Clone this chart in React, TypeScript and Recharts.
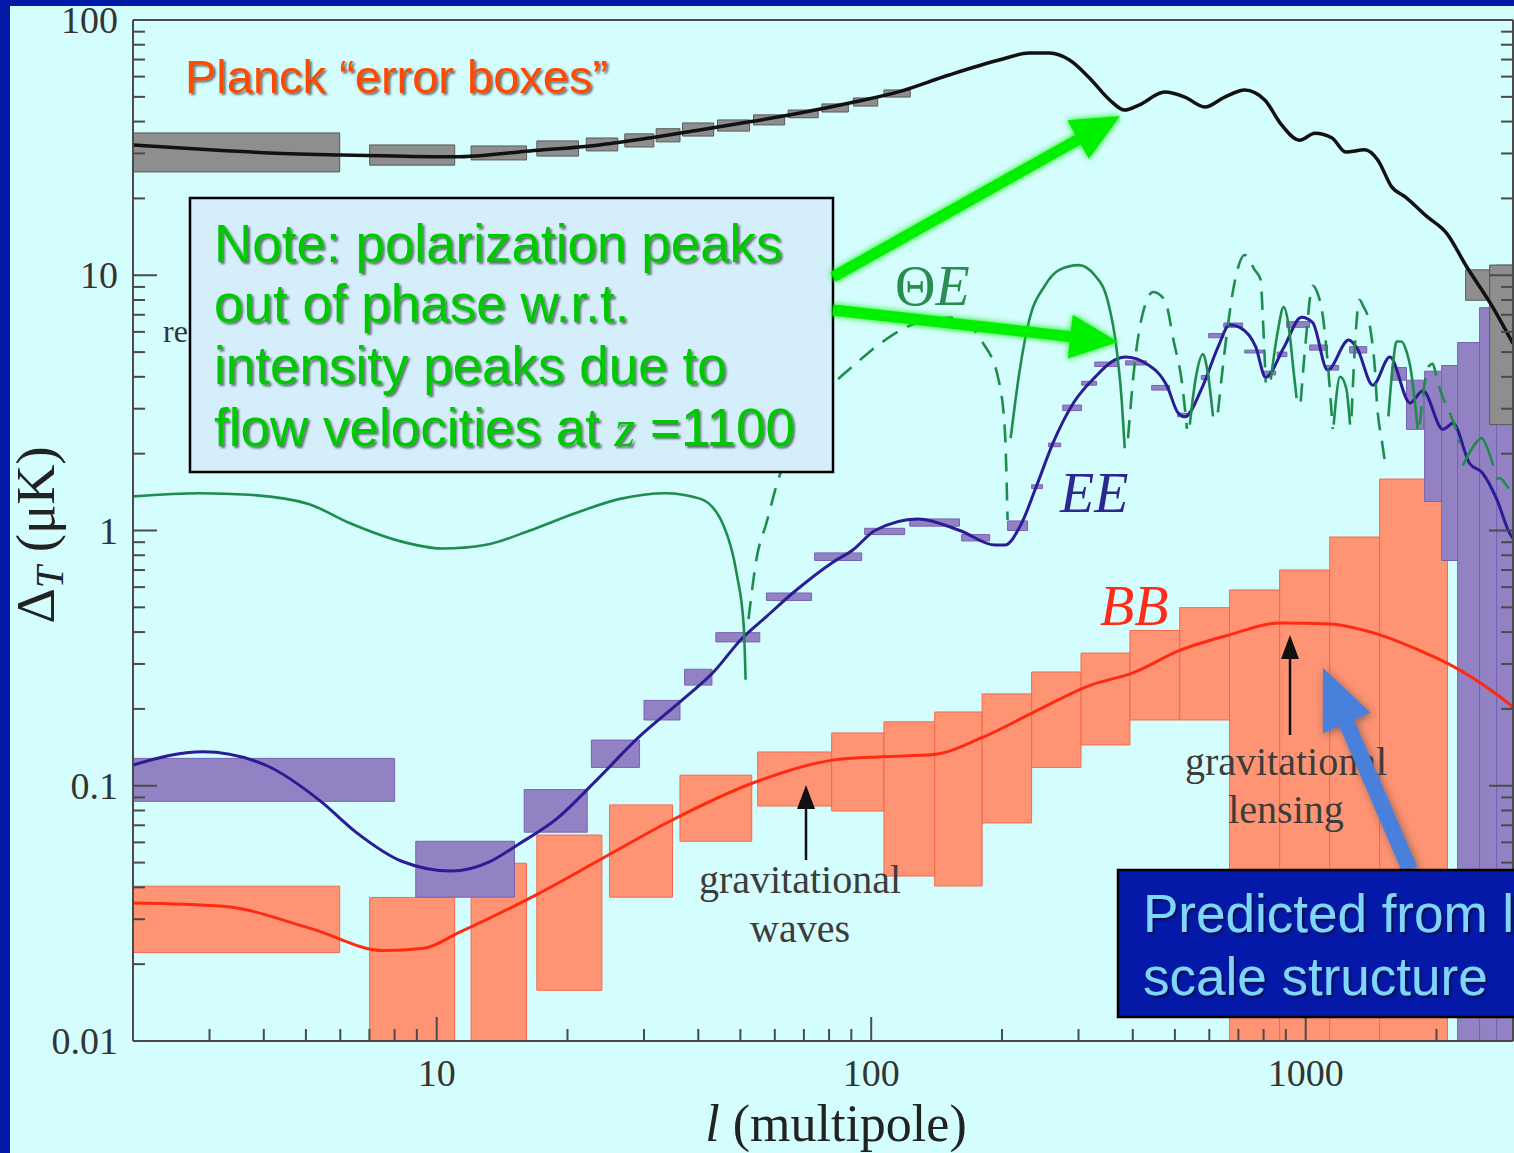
import React from 'react';
import { ComposedChart, Line, XAxis, YAxis, ReferenceArea } from 'recharts';

// CMB power spectra: multipole l against temperature/polarization amplitude (μK)
type Pt = [number, number];
type Box = [number, number, number, number]; // [lFrom, lTo, low, high]

const W = 1514;
const H = 1153;

// Temperature (TT) spectrum
const ttCurve: Pt[] = [
  [2, 32.4], [3, 31.0], [4, 30.2], [6, 29.6], [8, 29.3], [11, 29.1], [16.4, 30.7], [23.7, 32.4],
  [30.9, 34.5], [40.3, 37.1], [52.5, 39.9], [68.5, 43.2], [89.2, 47.3], [116, 52.4], [151, 60.9],
  [197, 69.7], [231, 74.2], [257, 74.2], [286, 69.7], [318, 59.3], [354, 48.6], [383, 44.4],
  [413, 46.4], [474, 52.2], [527, 49.9], [586, 45.6], [651, 49.9], [724, 53.2], [805, 48.6],
  [880, 38.8], [968, 33.8], [1050, 36.0], [1150, 34.5], [1236, 30.4], [1367, 31.0], [1465, 28.3],
  [1577, 22.2], [1700, 20.2], [1900, 17.0], [2111, 14.6], [2347, 10.8], [2694, 7.5], [3000, 5.4],
];

// E-mode polarization (EE) spectrum
const eeCurve: Pt[] = [
  [2, 0.1206], [2.9, 0.136], [4.08, 0.1195], [5.41, 0.0869], [6.55, 0.0654], [8.31, 0.0506],
  [10.8, 0.0463], [13.3, 0.0506], [15.4, 0.0589], [19.0, 0.0749], [23.3, 0.105], [29.3, 0.156],
  [36.3, 0.213], [43.2, 0.277], [50.6, 0.38], [57.4, 0.46], [66.0, 0.569], [81.5, 0.75],
  [90.7, 0.839], [102, 1.0], [128, 1.11], [160, 1.0], [193, 0.877], [203, 0.877], [222, 1.07],
  [240, 1.49], [262, 2.2], [292, 3.16], [327, 3.98], [363, 4.65], [385, 4.78], [430, 4.5],
  [481, 3.64], [507, 2.91], [527, 2.79], [578, 3.64], [629, 5.25], [668, 6.4], [705, 6.25],
  [767, 5.25], [809, 3.98], [890, 5.2], [978, 6.85], [1038, 6.52], [1123, 4.25], [1256, 5.57],
  [1311, 5.2], [1428, 3.71], [1562, 4.78], [1738, 3.16], [1861, 3.53], [2069, 2.49], [2182, 2.63],
  [2384, 1.83], [2552, 1.68], [2750, 1.33], [2948, 0.975], [3000, 0.93],
];

// B-mode polarization (BB) spectrum
const bbCurve: Pt[] = [
  [2, 0.0347], [3.22, 0.0337], [5.16, 0.0275], [7.56, 0.0226], [9.35, 0.0231], [11.3, 0.0267],
  [16.9, 0.0373], [24.1, 0.052], [34.4, 0.0726], [53.4, 0.1025], [81.5, 0.126], [106, 0.13],
  [139, 0.1325], [181, 0.155], [235, 0.193], [320, 0.248], [400, 0.277], [513, 0.339],
  [668, 0.39], [871, 0.4345], [1136, 0.4306], [1427, 0.398], [1829, 0.339], [2111, 0.303],
  [2795, 0.2236], [3000, 0.2035],
];

// Temperature-polarization cross spectrum (ΘE), signed: negative stretches are dashed
const teCurve: Pt[] = [
  [2, 1.36], [2.85, 1.4], [3.7, 1.38], [5.07, 1.27], [6.3, 1.07], [8.2, 0.91], [10.3, 0.85],
  [13, 0.88], [16.4, 1.0], [20.9, 1.17], [26.4, 1.33], [33.6, 1.4], [40.5, 1.33], [45.8, 1.04],
  [49.0, 0.68], [50.9, 0.42], [51.4, 0.26],
  [52.2, -0.45], [54.5, -0.78], [57.4, -1.07], [60.8, -1.54], [68.5, -2.49], [82.3, -3.79],
  [92.1, -4.5], [105.7, -5.45], [127.9, -6.52], [154.8, -6.83], [180.6, -5.45], [196.5, -3.88],
  [203, -2.49], [206, -1.1],
  [209.4, 2.3], [219.7, 4.25], [231, 6.66], [250.9, 9.1], [271, 10.5], [300.3, 10.96],
  [326.9, 10.0], [350, 7.98], [367.4, 5.09], [377.2, 3.24], [383.3, 2.1],
  [390, -2.3], [404, -4.5], [421, -7.0], [446, -8.6], [474, -7.98], [497, -5.5], [519, -3.8],
  [533, -2.5],
  [541, 2.6], [559, 4.0], [580, 4.9], [593, 4.3], [612, 2.8],
  [628, -2.9], [655, -5.5], [687, -9.5], [724, -12.0], [763, -10.5], [788, -9.6], [796, -7.1],
  [809, -3.8],
  [831, 3.9], [862, 6.0], [890, 7.5], [914, 6.3], [938, 4.2], [953, 3.3],
  [974, -3.2], [1000, -5.5], [1038, -9.1], [1065, -8.5], [1094, -7.0], [1123, -4.6], [1154, -2.5],
  [1160, 2.6], [1200, 4.0], [1240, 3.6], [1265, 2.6],
  [1275, -2.8], [1300, -5.5], [1330, -8.0], [1360, -7.5], [1390, -6.9], [1420, -5.6],
  [1443, -4.3], [1458, -3.2], [1500, -2.2], [1530, -1.75],
  [1550, 2.8], [1590, 4.6], [1619, 5.5], [1660, 5.5], [1708, 5.0], [1740, 4.4], [1780, 3.3],
  [1810, 2.5],
  [1830, -2.6], [1880, -3.8], [1920, -4.4], [1960, -4.5], [2000, -4.0], [2034, -3.6],
  [2143, -2.9], [2216, -2.5], [2260, -2.2],
  [2300, 1.8], [2417, 2.1], [2540, 2.3], [2620, 2.1], [2700, 1.8],
  [2740, -1.6], [2800, -1.6], [2900, -1.5], [3000, -1.4],
];

// Planck error boxes
const ttBoxes: Box[] = [
  [2, 5.98, 25.4, 36.1], [7.01, 11.0, 27.0, 32.4], [12.0, 16.1, 28.3, 32.1],
  [17.0, 21.2, 29.3, 33.6], [22.1, 26.1, 30.7, 34.5], [27.1, 31.6, 31.8, 35.8],
  [32.0, 36.3, 33.3, 37.5], [36.8, 43.4, 35.1, 39.5], [44.3, 52.5, 36.7, 40.6],
  [53.6, 63.2, 38.8, 42.5], [64.4, 75.5, 41.4, 44.4], [77, 88.6, 43.6, 46.9],
  [91, 103.5, 46.0, 49.5], [107, 123, 49.9, 53.2],
  [2334, 2651, 7.98, 10.5], [2651, 3100, 2.6, 10.96],
];

const eeBoxes: Box[] = [
  [2, 8.0, 0.0869, 0.128], [8.95, 15.1, 0.0366, 0.0606], [15.9, 22.2, 0.0658, 0.0966],
  [22.7, 29.3, 0.118, 0.151], [30.0, 36.3, 0.181, 0.216], [37.2, 43.0, 0.248, 0.286],
  [43.9, 55.4, 0.366, 0.398], [57.4, 72.9, 0.532, 0.569], [74.1, 95.1, 0.763, 0.817],
  [96.6, 119.4, 0.964, 1.02], [122.7, 159.7, 1.04, 1.11], [161.5, 187.4, 0.91, 0.964],
  [206, 229, 1.0, 1.09], [234, 248, 1.46, 1.51], [256, 273, 2.13, 2.2], [276, 305, 2.95, 3.1],
  [305, 330, 3.71, 3.84], [327, 369, 4.39, 4.57], [385, 430, 4.45, 4.62], [442, 486, 3.55, 3.7],
  [507, 535, 2.79, 2.88], [575, 600, 3.9, 4.05], [598, 648, 5.69, 5.91], [648, 716, 6.25, 6.5],
  [724, 796, 4.96, 5.09], [796, 853, 4.07, 4.21], [860, 905, 4.8, 5.0], [904, 1021, 6.25, 6.58],
  [1021, 1123, 5.09, 5.33], [1111, 1191, 4.25, 4.43], [1262, 1382, 4.96, 5.25],
  [1577, 1706, 3.88, 4.35], [1706, 1868, 2.49, 3.88], [1878, 2055, 1.3, 4.21],
  [2055, 2237, 0.763, 4.43], [2237, 2513, 0.005, 5.45], [2513, 2750, 0.005, 7.46],
  [2750, 3100, 0.005, 10.96],
];

const bbBoxes: Box[] = [
  [2, 5.98, 0.0222, 0.0404], [7.01, 11.0, 0.005, 0.0365], [12.0, 16.1, 0.005, 0.0497],
  [17.0, 24.0, 0.0158, 0.0641], [25.0, 34.9, 0.0366, 0.0841], [36.3, 53.1, 0.0606, 0.11],
  [54.8, 81.1, 0.0833, 0.1356], [81.1, 107, 0.0796, 0.161], [107, 140, 0.0443, 0.178],
  [140, 180, 0.0405, 0.1945], [180, 234, 0.0715, 0.229], [234, 304, 0.118, 0.279],
  [304, 394, 0.1445, 0.331], [394, 513, 0.181, 0.406], [513, 668, 0.181, 0.4985],
  [668, 871, 0.005, 0.585], [871, 1136, 0.005, 0.7], [1136, 1480, 0.005, 0.943],
  [1480, 2120, 0.005, 1.59],
];

// Axis ticks
const xTicks = [3, 4, 5, 6, 7, 8, 9, 10, 20, 30, 40, 50, 60, 70, 80, 90, 100, 200, 300, 400, 500, 600, 700, 800, 900, 1000, 2000];
const xLabelValues = [10, 100, 1000];
const xLabelTexts = ['10', '100', '1000'];
const yTicks = [
  0.01, 0.02, 0.03, 0.04, 0.05, 0.06, 0.07, 0.08, 0.09,
  0.1, 0.2, 0.3, 0.4, 0.5, 0.6, 0.7, 0.8, 0.9,
  1, 2, 3, 4, 5, 6, 7, 8, 9,
  10, 20, 30, 40, 50, 60, 70, 80, 90, 100,
];
const yLabelValues = [0.01, 0.1, 1, 10, 100];
const yLabelTexts = ['0.01', '0.1', '1', '10', '100'];

const SANS = '"Liberation Sans", Arial, Helvetica, sans-serif';
const SERIF = '"Liberation Serif", "Times New Roman", Times, serif';
const AX = '#4a4a4a';
const CYAN = '#d4fdfd';
const NAVY = '#0519a8';

const isDecade = (v: number) => Math.abs(Math.log10(v) - Math.round(Math.log10(v))) < 1e-9;

const bottomTick = (p: any) => {
  const v = p.payload.value;
  const len = isDecade(v) ? 24 : 12;
  const i = xLabelValues.indexOf(v);
  return (
    <g>
      <line x1={p.x} x2={p.x} y1={p.y} y2={p.y - len} stroke={AX} strokeWidth={2} />
      {i >= 0 && (
        <text x={p.x} y={p.y + 45} textAnchor="middle" fontFamily={SERIF} fontSize={38} fill="#333">
          {xLabelTexts[i]}
        </text>
      )}
    </g>
  );
};

const topTick = (p: any) => {
  const len = isDecade(p.payload.value) ? 24 : 12;
  return <line x1={p.x} x2={p.x} y1={p.y} y2={p.y + len} stroke={AX} strokeWidth={2} />;
};

const leftTick = (p: any) => {
  const v = p.payload.value;
  const len = isDecade(v) ? 24 : 12;
  const i = yLabelValues.indexOf(v);
  return (
    <g>
      <line x1={p.x} x2={p.x + len} y1={p.y} y2={p.y} stroke={AX} strokeWidth={2} />
      {i >= 0 && (
        <text x={p.x - 15} y={p.y + 13} textAnchor="end" fontFamily={SERIF} fontSize={38} fill="#333">
          {yLabelTexts[i]}
        </text>
      )}
    </g>
  );
};

const rightTick = (p: any) => {
  const len = isDecade(p.payload.value) ? 24 : 12;
  return <line x1={p.x} x2={p.x - len} y1={p.y} y2={p.y} stroke={AX} strokeWidth={2} />;
};

// Splits the signed ΘE points into runs of constant sign
function splitRuns(pts: Pt[]) {
  const runs: { pos: boolean; pts: { l: number; v: number }[] }[] = [];
  let cur: { pos: boolean; pts: { l: number; v: number }[] } | null = null;
  for (const [l, v] of pts) {
    const pos = v > 0;
    if (!cur || cur.pos !== pos) {
      cur = { pos, pts: [] };
      runs.push(cur);
    }
    cur.pts.push({ l, v: Math.abs(v) });
  }
  return runs;
}

const toRows = (pts: Pt[]) => pts.map(([l, v]) => ({ l, v }));

// Polygon for a block arrow from tail to tip
function arrowPoints(x1: number, y1: number, x2: number, y2: number, shaft: number, headLen: number, headW: number) {
  const dx = x2 - x1;
  const dy = y2 - y1;
  const len = Math.hypot(dx, dy);
  const ux = dx / len;
  const uy = dy / len;
  const nx = -uy;
  const ny = ux;
  const bx = x2 - ux * headLen;
  const by = y2 - uy * headLen;
  const s = shaft / 2;
  const h = headW / 2;
  const pts = [
    [x1 + nx * s, y1 + ny * s],
    [bx + nx * s, by + ny * s],
    [bx + nx * h, by + ny * h],
    [x2, y2],
    [bx - nx * h, by - ny * h],
    [bx - nx * s, by - ny * s],
    [x1 - nx * s, y1 - ny * s],
  ];
  return pts.map((p) => p.join(',')).join(' ');
}

const axisLine = { stroke: AX, strokeWidth: 2 };

export default function App() {
  const teRuns = splitRuns(teCurve);
  const common = { xAxisId: 'x', yAxisId: 'y', ifOverflow: 'hidden' as const, fillOpacity: 1, strokeWidth: 1 };

  return (
    <div style={{ position: 'absolute', left: 0, top: 0, width: W, height: H, overflow: 'hidden', background: CYAN }}>
      <ComposedChart width={W} height={H} margin={{ top: 19, right: 0, bottom: 82, left: 73 }}>
        <XAxis
          xAxisId="x" dataKey="l" type="number" scale="log" domain={[2, 3000]} allowDataOverflow
          ticks={xTicks} interval={0} tick={bottomTick} tickLine={false} tickSize={0} tickMargin={0}
          height={30} axisLine={axisLine}
        />
        <XAxis
          xAxisId="xt" orientation="top" type="number" scale="log" domain={[2, 3000]} allowDataOverflow
          ticks={xTicks} interval={0} tick={topTick} tickLine={false} tickSize={0} tickMargin={0}
          height={1} axisLine={axisLine}
        />
        <YAxis
          yAxisId="y" type="number" scale="log" domain={[0.01, 100]} allowDataOverflow
          ticks={yTicks} interval={0} tick={leftTick} tickLine={false} tickSize={0} tickMargin={0}
          width={60} axisLine={axisLine}
        />
        <YAxis
          yAxisId="yr" orientation="right" type="number" scale="log" domain={[0.01, 100]} allowDataOverflow
          ticks={yTicks} interval={0} tick={rightTick} tickLine={false} tickSize={0} tickMargin={0}
          width={1} axisLine={axisLine}
        />

        {bbBoxes.map(([a, b, lo, hi], i) => (
          <ReferenceArea key={`bb${i}`} {...common} x1={a} x2={b} y1={lo} y2={hi} fill="#ff9474" stroke="#f4684c" />
        ))}
        {eeBoxes.map(([a, b, lo, hi], i) => (
          <ReferenceArea key={`ee${i}`} {...common} x1={a} x2={b} y1={lo} y2={hi} fill="#9282c4" stroke="#7563b3" />
        ))}
        {ttBoxes.map(([a, b, lo, hi], i) => (
          <ReferenceArea key={`tt${i}`} {...common} x1={a} x2={b} y1={lo} y2={hi} fill="#8e8e8e" stroke="#5a5a5a" />
        ))}

        <Line xAxisId="x" yAxisId="y" data={toRows(bbCurve)} dataKey="v" type="monotone" stroke="#ff2a10"
          strokeWidth={3} dot={false} isAnimationActive={false} />
        <Line xAxisId="x" yAxisId="y" data={toRows(eeCurve)} dataKey="v" type="monotone" stroke="#2a1c94"
          strokeWidth={3} dot={false} isAnimationActive={false} />
        {teRuns.map((r, i) => (
          <Line key={`te${i}`} xAxisId="x" yAxisId="y" data={r.pts} dataKey="v" type="monotone"
            stroke="#1f8c4e" strokeWidth={2.6} strokeDasharray={r.pos ? undefined : '18 11'}
            dot={false} isAnimationActive={false} />
        ))}
        <Line xAxisId="x" yAxisId="y" data={toRows(ttCurve)} dataKey="v" type="monotone" stroke="#111"
          strokeWidth={3.5} dot={false} isAnimationActive={false} />
      </ComposedChart>

      <svg width={W} height={H} style={{ position: 'absolute', left: 0, top: 0 }}>
        <defs>
          <filter id="shadow" x="-10%" y="-30%" width="120%" height="160%">
            <feDropShadow dx="2" dy="2" stdDeviation="1.3" floodColor="#000" floodOpacity="0.55" />
          </filter>
          <filter id="glow" x="-20%" y="-20%" width="140%" height="140%">
            <feGaussianBlur in="SourceGraphic" stdDeviation="3" result="b" />
            <feMerge>
              <feMergeNode in="b" />
              <feMergeNode in="SourceGraphic" />
            </feMerge>
          </filter>
          <filter id="blueShadow" x="-30%" y="-30%" width="160%" height="160%">
            <feDropShadow dx="2" dy="2" stdDeviation="4" floodColor="#333" floodOpacity="0.5" />
          </filter>
        </defs>

        {/* frame */}
        <rect x={0} y={0} width={10} height={H} fill={NAVY} />
        <rect x={0} y={0} width={W} height={6} fill={NAVY} />

        {/* axis titles */}
        <text transform="translate(54,535) rotate(-90)" textAnchor="middle" fontFamily={SERIF} fontSize={55} fill="#222">
          Δ<tspan fontStyle="italic" fontSize={40} dy={9}>T</tspan>
          <tspan dy={-9}> (μK)</tspan>
        </text>
        <text x={836} y={1141} textAnchor="middle" fontFamily={SERIF} fontSize={52} fill="#222">
          <tspan fontStyle="italic">l</tspan> (multipole)
        </text>

        {/* series labels */}
        <text x={895} y={305} fontFamily={SERIF} fontSize={56} fill="#2a8c50">
          Θ<tspan fontStyle="italic">E</tspan>
        </text>
        <text x={1060} y={512} fontFamily={SERIF} fontStyle="italic" fontSize={56} fill="#2c2890">EE</text>
        <text x={1100} y={625} fontFamily={SERIF} fontStyle="italic" fontSize={56} fill="#ff2a18">BB</text>

        <text x={163} y={342} fontFamily={SERIF} fontSize={32} fill="#333">re</text>

        <text x={185} y={93} fontFamily={SANS} fontSize={47} fill="#ff4a00" filter="url(#shadow)">
          Planck “error boxes”
        </text>

        {/* gravitational waves / lensing annotations */}
        <polygon points={arrowPoints(806, 860, 806, 785, 2.5, 24, 18)} fill="#111" />
        <text x={800} y={893} textAnchor="middle" fontFamily={SERIF} fontSize={40} fill="#3c3c3c">gravitational</text>
        <text x={800} y={942} textAnchor="middle" fontFamily={SERIF} fontSize={40} fill="#3c3c3c">waves</text>
        <polygon points={arrowPoints(1290, 735, 1290, 635, 2.5, 24, 18)} fill="#111" />
        <text x={1286} y={775} textAnchor="middle" fontFamily={SERIF} fontSize={40} fill="#3c3c3c">gravitational</text>
        <text x={1286} y={823} textAnchor="middle" fontFamily={SERIF} fontSize={40} fill="#3c3c3c">lensing</text>

        {/* note box */}
        <rect x={190} y={198} width={643} height={274} fill="#d4eefb" stroke="#000" strokeWidth={2.5} />
        <g fontFamily={SANS} fontSize={53} fill="#06c806" filter="url(#shadow)">
          <text x={214} y={262}>Note: polarization peaks</text>
          <text x={214} y={322}>out of phase w.r.t.</text>
          <text x={214} y={384}>intensity peaks due to</text>
          <text x={214} y={446}>
            flow velocities at <tspan fontFamily={SERIF} fontStyle="italic">z</tspan> =1100
          </text>
        </g>
        <g filter="url(#glow)">
          <polygon points={arrowPoints(833, 277, 1120, 116, 11, 48, 44)} fill="#00f000" />
          <polygon points={arrowPoints(833, 310, 1118, 342, 11, 48, 44)} fill="#00f000" />
        </g>

        {/* large scale structure note */}
        <polygon points={arrowPoints(1410, 870, 1323, 668, 16, 60, 52)} fill="#4a80dc" filter="url(#blueShadow)" />
        <rect x={1118} y={870} width={420} height={147} fill={NAVY} stroke="#000" strokeWidth={2.5} />
        <g fontFamily={SANS} fontSize={53} fill="#7fd6fa" filter="url(#shadow)">
          <text x={1143} y={932}>Predicted from large</text>
          <text x={1143} y={995}>scale structure</text>
        </g>
      </svg>
    </div>
  );
}
